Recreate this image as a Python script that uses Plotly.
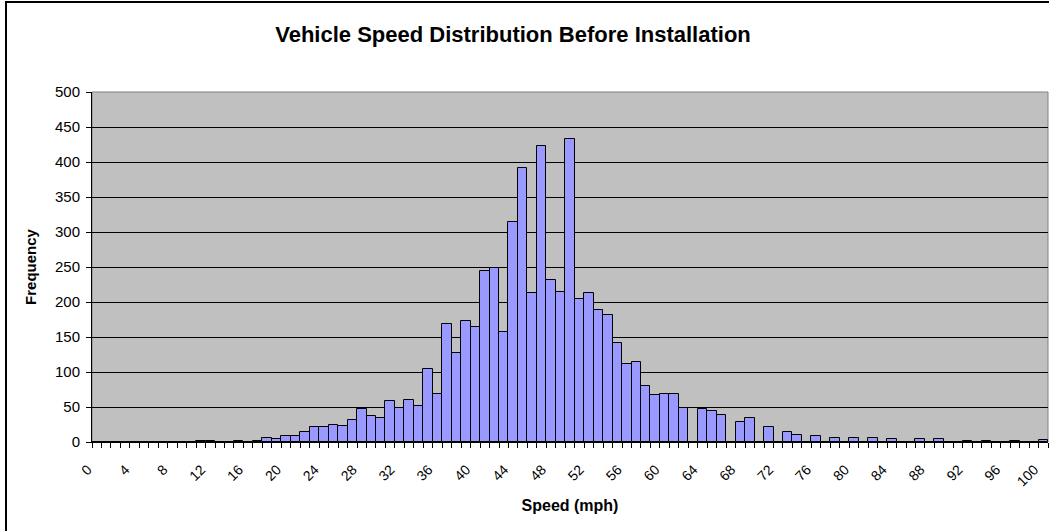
import plotly.graph_objects as go

speeds = list(range(0, 101))
frequency = [
    0, 0, 0, 0, 0, 0, 0, 0, 0, 0,      # 0-9
    0, 2, 2, 0, 0, 2, 0, 1, 6, 5,      # 10-19
    8, 8, 14, 21, 21, 25, 23, 32, 47, 37,   # 20-29
    34, 58, 48, 60, 51, 105, 69, 169, 127, 173,  # 30-39
    164, 244, 248, 157, 314, 391, 213, 423, 231, 215,  # 40-49
    433, 204, 213, 189, 182, 142, 111, 115, 80, 67,  # 50-59
    69, 69, 49, 0, 47, 45, 38, 0, 29, 34,   # 60-69
    0, 22, 0, 14, 10, 0, 8, 0, 6, 0,   # 70-79
    6, 0, 6, 0, 4, 0, 0, 4, 0, 4,      # 80-89
    0, 0, 1, 0, 1, 0, 0, 1, 0, 0,      # 90-99
    3,                                  # 100
]
tick_labels = [str(v) for v in range(0, 101, 4)]
y_ticks = list(range(0, 501, 50))

FONT = "Liberation Sans, Arial, sans-serif"

fig = go.Figure()
fig.add_trace(go.Bar(
    x=speeds, y=frequency,
    marker=dict(color="#9999FF", line=dict(color="black", width=1)),
    hoverinfo="x+y",
))

W, H = 1049, 531
L, R, T, B = 92, 1, 92, 89
pw = W - L - R
ph = H - T - B

fig.update_layout(
    width=W, height=H, autosize=False,
    margin=dict(l=L, r=R, t=T, b=B, pad=0, autoexpand=False),
    paper_bgcolor="white",
    plot_bgcolor="#C0C0C0",
    bargap=0,
    showlegend=False,
    font=dict(family=FONT, size=14, color="black"),
    title=dict(
        text="<b>Vehicle Speed Distribution Before Installation</b>",
        x=513 / W, xanchor="center",
        y=1 - 34 / H, yanchor="middle",
        font=dict(family=FONT, size=22, color="black"),
        automargin=False,
    ),
    xaxis=dict(
        range=[-0.5, 100.5],
        tickmode="array",
        tickvals=list(range(0, 101, 4)),
        ticktext=tick_labels,
        tickangle=-45,
        ticks="",
        ticklabelstandoff=13,
        ticklabelshift=-9,
        ticklabeloverflow="allow",
        showgrid=False,
        zeroline=False,
        showline=True, linecolor="black", linewidth=1,
        tickfont=dict(size=14),
        automargin=False,
        minor=dict(ticks="outside", tickmode="linear", tick0=-0.5, dtick=1,
                   ticklen=5, tickcolor="black", tickwidth=1, showgrid=False),
        title=dict(text="<b>Speed (mph)</b>", font=dict(size=16), standoff=11),
    ),
    yaxis=dict(
        range=[0, 500],
        tickmode="array",
        tickvals=y_ticks,
        ticks="outside", ticklen=5, tickcolor="black",
        ticklabelstandoff=3,
        showgrid=True, gridcolor="black", gridwidth=1,
        zeroline=False,
        showline=True, linecolor="black", linewidth=1,
        tickfont=dict(size=15),
        automargin=False,
        title=dict(text="<b>Frequency</b>", font=dict(size=15), standoff=14),
    ),
)

# plot-area border (grey) and chart-area border (black)
fig.add_shape(type="rect", xref="paper", yref="paper", x0=0, x1=1, y0=0, y1=1,
              line=dict(color="#808080", width=1), layer="below")
fig.add_shape(type="rect", xref="paper", yref="paper",
              x0=(6 - L) / pw, x1=(W + 10 - L) / pw,
              y0=(H - B - (H + 10)) / ph, y1=(H - B - 2) / ph,
              line=dict(color="black", width=2))

fig.write_html("out.html",
               config={"displayModeBar": False},
               post_script="document.body.style.margin='0';document.body.style.overflow='hidden';")
